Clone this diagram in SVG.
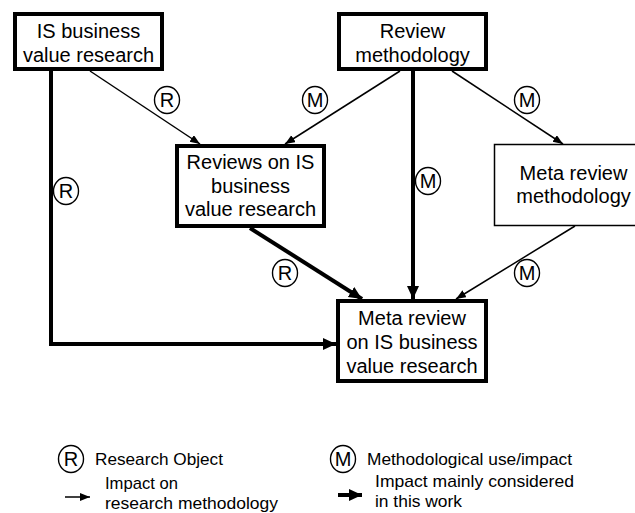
<svg xmlns="http://www.w3.org/2000/svg" width="635" height="513" viewBox="0 0 635 513">
<defs>
<style>
text{font-family:"Liberation Sans",Arial,sans-serif;fill:#000}
.n{font-size:20px;text-anchor:middle}
.lg{font-size:17px}
.c{font-size:20px;text-anchor:middle}
.box{fill:#fff;stroke:#000}
.thick{stroke-width:4}
.thinb{stroke-width:1.5}
.thin{stroke:#000;stroke-width:1.5;fill:none;marker-end:url(#ah)}
.bold{stroke:#000;stroke-width:4;fill:none;marker-end:url(#ahb)}
.circ{fill:none;stroke:#000;stroke-width:1.4}
</style>
<marker id="ah" markerUnits="userSpaceOnUse" markerWidth="12" markerHeight="10" refX="10" refY="4" orient="auto">
<path d="M0,0 L10,4 L0,8 Z" fill="#000"/>
</marker>
<marker id="ahb" markerUnits="userSpaceOnUse" markerWidth="16" markerHeight="14" refX="13" refY="6" orient="auto">
<path d="M0,0 L13,6 L0,12 Z" fill="#000"/>
</marker>
</defs>
<g id="connectors">
<line class="thin" x1="90" y1="71" x2="200" y2="144"/>
<line class="thin" x1="400" y1="71" x2="285" y2="144"/>
<line class="thin" x1="452" y1="71" x2="563" y2="144"/>
<line class="bold" x1="413" y1="71" x2="413" y2="299"/>
<line class="bold" x1="250" y1="228" x2="362" y2="299"/>
<line class="thin" x1="575" y1="226" x2="456" y2="299"/>
<polyline class="bold" points="51,71 51,344 336,344"/>
</g>
<g id="edge-labels">
<ellipse class="circ" cx="167" cy="100" rx="12.5" ry="13.5"/><text class="c" x="167" y="107">R</text>
<ellipse class="circ" cx="315" cy="100" rx="12.5" ry="13.5"/><text class="c" x="315" y="107">M</text>
<ellipse class="circ" cx="527" cy="100" rx="12.5" ry="13.5"/><text class="c" x="527" y="107">M</text>
<ellipse class="circ" cx="66" cy="191" rx="12.5" ry="13.5"/><text class="c" x="66" y="198">R</text>
<ellipse class="circ" cx="428" cy="181" rx="12.5" ry="13.5"/><text class="c" x="428" y="188">M</text>
<ellipse class="circ" cx="285" cy="273" rx="12.5" ry="13.5"/><text class="c" x="285" y="280">R</text>
<ellipse class="circ" cx="527" cy="273" rx="12.5" ry="13.5"/><text class="c" x="527" y="280">M</text>
</g>
<g id="n1">
<rect class="box thick" x="15" y="14" width="147" height="55"/>
<text class="n" x="88.5" y="38">IS business</text>
<text class="n" x="88.5" y="62">value research</text>
</g>
<g id="n2">
<rect class="box thick" x="339" y="14" width="147" height="55"/>
<text class="n" x="412.5" y="38">Review</text>
<text class="n" x="412.5" y="62">methodology</text>
</g>
<g id="n3">
<rect class="box thick" x="177" y="146" width="147" height="80"/>
<text class="n" x="250.5" y="169">Reviews on IS</text>
<text class="n" x="250.5" y="193">business</text>
<text class="n" x="250.5" y="216">value research</text>
</g>
<g id="n4">
<rect class="box thinb" x="494.5" y="144.5" width="160" height="81"/>
<text class="n" x="573.5" y="180">Meta review</text>
<text class="n" x="573.5" y="203">methodology</text>
</g>
<g id="n5">
<rect class="box thick" x="338" y="301" width="148" height="80"/>
<text class="n" x="412" y="325">Meta review</text>
<text class="n" x="412" y="349">on IS business</text>
<text class="n" x="412" y="373">value research</text>
</g>
<g id="legend">
<ellipse class="circ" cx="71" cy="459" rx="12.5" ry="13.5"/><text class="c" x="71" y="466">R</text>
<text class="lg" x="95" y="465" textLength="128" lengthAdjust="spacingAndGlyphs">Research Object</text>
<ellipse class="circ" cx="343" cy="459" rx="12.5" ry="13.5"/><text class="c" x="343" y="466">M</text>
<text class="lg" x="367" y="465" textLength="205" lengthAdjust="spacingAndGlyphs">Methodological use/impact</text>
<line class="thin" x1="65" y1="497" x2="90" y2="497"/>
<text class="lg" x="105" y="489" textLength="73" lengthAdjust="spacingAndGlyphs">Impact on</text>
<text class="lg" x="105" y="509" textLength="173" lengthAdjust="spacingAndGlyphs">research methodology</text>
<line class="bold" x1="338" y1="495" x2="362" y2="495"/>
<text class="lg" x="375" y="487" textLength="199" lengthAdjust="spacingAndGlyphs">Impact mainly considered</text>
<text class="lg" x="375" y="507" textLength="87" lengthAdjust="spacingAndGlyphs">in this work</text>
</g>
</svg>
